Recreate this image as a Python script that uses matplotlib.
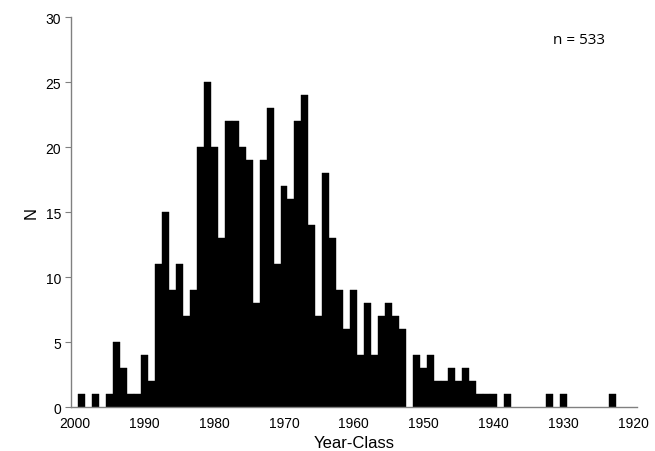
import numpy as np
import matplotlib.pyplot as plt

plt.rcParams['font.family'] = ['Liberation Sans', 'DejaVu Sans']

# year-class counts (years with no fish are left out)
years = [1999, 1997, 1995, 1994, 1993, 1992, 1991, 1990, 1989, 1988,
         1987, 1986, 1985, 1984, 1983, 1982, 1981, 1980, 1979, 1978,
         1977, 1976, 1975, 1974, 1973, 1972, 1971, 1970, 1969, 1968,
         1967, 1966, 1965, 1964, 1963, 1962, 1961, 1960, 1959, 1958,
         1957, 1956, 1955, 1954, 1953, 1951, 1950, 1949, 1948, 1947,
         1946, 1945, 1944, 1943, 1942, 1941, 1940, 1938, 1932, 1930,
         1923]
counts = [1, 1, 1, 5, 3, 1, 1, 4, 2, 11,
          15, 9, 11, 7, 9, 20, 25, 20, 13, 22,
          22, 20, 19, 8, 19, 23, 11, 17, 16, 22,
          24, 14, 7, 18, 13, 9, 6, 9, 4, 8,
          4, 7, 8, 7, 6, 4, 3, 4, 2, 2,
          3, 2, 3, 2, 1, 1, 1, 1, 1, 1,
          1]
xticks = [2000, 1990, 1980, 1970, 1960, 1950, 1940, 1930, 1920]
yticks = [0, 5, 10, 15, 20, 25, 30]

fig = plt.figure(figsize=(6.55, 4.52), dpi=100)
ax = fig.add_axes([0.1084, 0.0967, 0.8636, 0.8628])

ax.bar(years, counts, width=1.0, color='black', edgecolor='black', linewidth=0.3)

ax.set_xlim(2000.5, 1919.5)
ax.set_ylim(0, 30)
ax.set_xticks(xticks)
ax.set_yticks(yticks)
ax.tick_params(axis='x', length=0, labelsize=10, pad=6)
ax.tick_params(axis='y', length=4, color='#808080', labelsize=10, pad=3)

for s in ['top', 'right']:
    ax.spines[s].set_visible(False)
for s in ['left', 'bottom']:
    ax.spines[s].set_color('#808080')
    ax.spines[s].set_linewidth(1.0)

ax.set_xlabel('Year-Class', fontsize=12, labelpad=4)
ax.set_ylabel('N', fontsize=12, labelpad=5)
ax.text(0.898, 0.9426, 'n = 533', transform=ax.transAxes, fontsize=11,
        ha='center', va='center', family=['Open Sans', 'DejaVu Sans'])

plt.savefig('out.png', dpi=100)
